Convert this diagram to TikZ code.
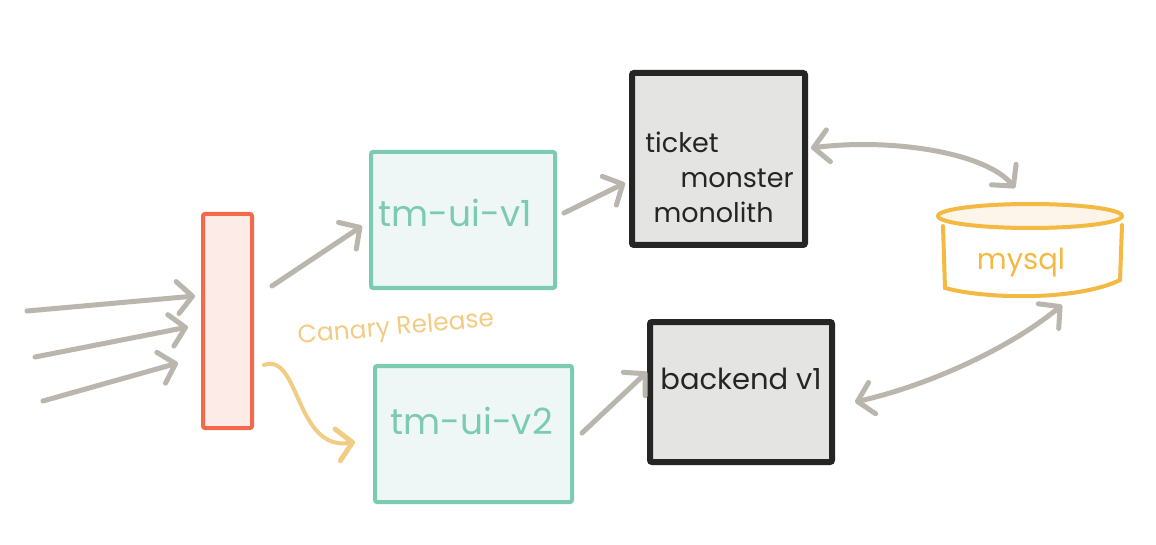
\documentclass[tikz,border=0pt]{standalone}
\usepackage{fontspec}
\setmainfont{Poppins}
\usetikzlibrary{arrows.meta}
\definecolor{arrgray}{HTML}{BAB6AE}
\definecolor{teal1}{HTML}{7BCBB3}
\definecolor{tealfill}{HTML}{EEF7F5}
\definecolor{redb}{HTML}{F36A4A}
\definecolor{redfill}{HTML}{FDEBE8}
\definecolor{blk}{HTML}{252525}
\definecolor{grayfill}{HTML}{E4E4E2}
\definecolor{sqlc}{HTML}{F4B942}
\definecolor{sqlfill}{HTML}{FDF5EA}
\definecolor{canary}{HTML}{F2CC85}
\tikzset{
  mybarb/.tip={Straight Barb[length=15pt,width=32pt,line width=5pt,round]},
  arr/.style={draw=arrgray, line width=5pt, line cap=round, -{mybarb}},
  arrboth/.style={draw=arrgray, line width=5pt, line cap=round, {mybarb}-{mybarb}},
  uibox/.style={draw=teal1, fill=tealfill, line width=4pt, rounded corners=2pt, inner sep=0pt},
  uitext/.style={text=teal1, font=\fontsize{36}{40}\selectfont},
  svcbox/.style={draw=blk, fill=grayfill, line width=6pt, rounded corners=2pt, text=blk, inner sep=0pt},
  lbbox/.style={draw=redb, fill=redfill, line width=4pt, rounded corners=2pt, inner sep=0pt},
}
\begin{document}
\begin{tikzpicture}[x=1pt,y=-1pt]
\useasboundingbox[fill=white] (0,0) rectangle (1156,545);
% nodes
\node[lbbox, minimum width=49pt, minimum height=214pt] (bar) at (227.5,321) {};
\node[uibox, minimum width=184pt, minimum height=136pt, label={[uitext,yshift=7pt,xshift=-8pt]center:tm-ui-v1}] (v1) at (463,220) {};
\node[uibox, minimum width=197pt, minimum height=136pt, label={[uitext,yshift=13pt,xshift=-2pt]center:tm-ui-v2}] (v2) at (473.5,434) {};
\node[svcbox, minimum width=173pt, minimum height=172pt, label={[text=blk,font=\fontsize{27}{35}\selectfont,align=left,yshift=-18pt,xshift=1pt]center:ticket\\\hspace*{1.3em}monster\\\hspace*{0.3em}monolith}] (mono) at (718.5,159) {};
\node[svcbox, minimum width=182pt, minimum height=140pt, label={[text=blk,font=\fontsize{29}{32}\selectfont,yshift=13pt]center:backend v1}] (back) at (741,392) {};
% mysql cylinder
\node[minimum width=180pt, minimum height=72pt, inner sep=0pt] (mysql) at (1032,262) {};
\draw[sqlc, line width=4pt, line cap=round] (943,226) -- (945,288) .. controls (990,300) and (1080,300) .. (1120,280) -- (1122,225);
\draw[sqlc, fill=sqlfill, line width=4pt] (1030,216) ellipse [x radius=92, y radius=12];
\node[text=sqlc, font=\fontsize{29}{32}\selectfont] (sqltext) at (1021,263) {mysql};
% canary label
\node[text=canary, font=\fontsize{25}{28}\selectfont, rotate=5] (canlbl) at (396,329) {Canary Release};
% incoming coordinates
\coordinate (in1) at (27,311);
\coordinate (in2) at (35,357);
\coordinate (in3) at (43,401);
% connectors
\draw[arr] (in1) -- ([shift={(-6,-25)}]bar.west);
\draw[arr] (in2) -- ([shift={(-13,6)}]bar.west);
\draw[arr] (in3) -- ([shift={(-23,42)}]bar.west);
\draw[arr] ([shift={(18,-35)}]bar.east) -- ([shift={(-7,6)}]v1.west);
\draw[arr, draw=canary, line width=4pt] ([shift={(10,44)}]bar.east) .. controls (300,352) and (295,452) .. ([shift={(-18,8)}]v2.west);
\draw[arr] ([shift={(7,-7)}]v1.east) -- ([shift={(-4,24)}]mono.west);
\draw[arr] ([shift={(8,-1)}]v2.east) -- ([shift={(0,-20)}]back.west);
\draw[arrboth] ([shift={(3,-11)}]mono.east) .. controls (890,138) and (985,152) .. ([shift={(-17,-74)}]mysql.center);
\draw[arrboth] ([shift={(20,10)}]back.east) .. controls (930,385) and (1010,348) .. ([shift={(30,43)}]mysql.center);
\end{tikzpicture}
\end{document}
